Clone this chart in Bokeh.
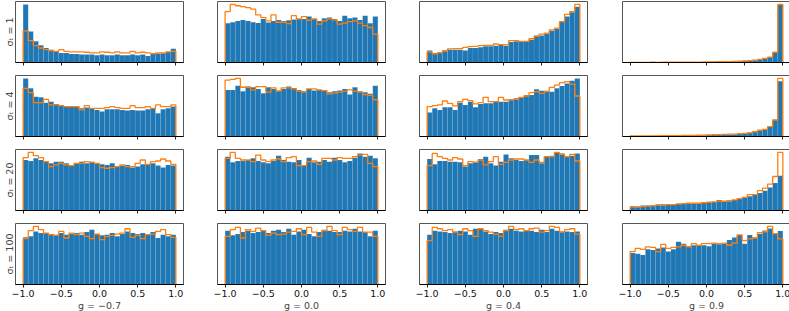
import numpy as np
from bokeh.plotting import figure
from bokeh.layouts import gridplot
from bokeh.models import Range1d, FixedTicker, CustomLabelingPolicy
from bokeh.embed import file_html
from bokeh.resources import INLINE

# ---- data -------------------------------------------------------------
bin_edges = np.linspace(-1.0, 1.0, 31)
g_values = ["−0.7", "0.0", "0.4", "0.9"]
sigma_values = ["1", "4", "20", "100"]
tick_vals = [-1.0, -0.5, 0.0, 0.5, 1.0]
tick_text = ["−1.0", "−0.5", "0.0", "0.5", "1.0"]

# blue = sampled histogram, orange = reference (step) histogram
# row sigma=1
blue_s1_g1 = [176, 94, 64, 52, 44, 39, 34, 29, 29, 26, 26, 24, 24, 24, 22, 24, 22, 22, 24, 22, 22, 24, 22, 24, 20, 26, 27, 28, 32, 42]
orange_s1_g1 = [96, 66, 51, 44, 39, 36, 34, 39, 34, 32, 32, 32, 31, 29, 29, 32, 31, 29, 32, 29, 29, 34, 29, 31, 29, 27, 29, 29, 32, 34]
blue_s1_g2 = [119, 122, 126, 129, 126, 122, 120, 132, 121, 126, 129, 126, 128, 130, 132, 132, 139, 132, 126, 134, 136, 132, 126, 142, 134, 136, 129, 142, 119, 139]
orange_s1_g2 = [154, 176, 172, 169, 166, 162, 144, 136, 126, 144, 122, 122, 118, 142, 132, 139, 128, 132, 116, 126, 132, 129, 116, 119, 124, 126, 119, 112, 106, 86]
blue_s1_g3 = [36, 29, 31, 34, 39, 39, 39, 36, 44, 44, 46, 49, 49, 51, 54, 51, 62, 64, 64, 64, 69, 82, 82, 87, 96, 102, 124, 139, 152, 169]
orange_s1_g3 = [32, 26, 29, 36, 41, 42, 42, 46, 48, 49, 51, 52, 52, 56, 54, 54, 66, 66, 64, 64, 72, 79, 86, 89, 99, 104, 124, 146, 154, 176]
blue_s1_g4 = [0.5, 0.5, 0.5, 0.6, 0.6, 0.7, 0.8, 0.8, 0.9, 1.0, 1.0, 1.2, 1.3, 1.4, 1.5, 1.7, 1.9, 2.1, 2.4, 2.8, 3.2, 3.8, 4.6, 5.6, 7, 9, 12, 17, 30, 174]
orange_s1_g4 = [0.6, 0.5, 0.6, 0.5, 0.7, 0.6, 0.8, 0.9, 0.8, 1.1, 1.1, 1.2, 1.4, 1.4, 1.6, 1.8, 2.0, 2.2, 2.6, 2.9, 3.4, 4.0, 4.8, 5.8, 7.2, 9.5, 12.5, 16, 31, 176]
# row sigma=4
blue_s4_g1 = [175, 145, 120, 118, 102, 105, 98, 95, 90, 92, 90, 85, 87, 85, 80, 75, 82, 82, 82, 80, 78, 80, 78, 78, 82, 85, 70, 82, 85, 90]
orange_s4_g1 = [145, 132, 102, 102, 112, 95, 95, 93, 90, 90, 90, 80, 93, 85, 85, 85, 87, 90, 87, 85, 85, 93, 87, 87, 90, 85, 95, 90, 90, 95]
blue_s4_g2 = [142, 142, 155, 138, 152, 150, 145, 132, 150, 145, 140, 145, 152, 148, 142, 138, 145, 140, 142, 142, 135, 138, 140, 145, 128, 150, 138, 135, 130, 155]
orange_s4_g2 = [172, 174, 177, 150, 150, 142, 152, 152, 135, 148, 138, 148, 148, 145, 138, 135, 145, 145, 142, 140, 130, 132, 135, 138, 142, 138, 135, 128, 125, 112]
blue_s4_g3 = [72, 85, 80, 88, 88, 80, 102, 95, 105, 88, 98, 100, 100, 105, 105, 105, 112, 115, 118, 125, 125, 142, 138, 138, 135, 145, 152, 160, 168, 175]
orange_s4_g3 = [90, 93, 95, 107, 100, 92, 105, 112, 108, 98, 102, 118, 105, 105, 118, 110, 110, 112, 118, 122, 132, 135, 130, 135, 148, 155, 162, 165, 158, 122]
blue_s4_g4 = [1.5, 1.5, 1.8, 1.8, 2.0, 2.0, 2.2, 2.4, 2.6, 2.8, 3.0, 3.2, 3.5, 3.8, 4.0, 4.3, 4.6, 5.0, 5.5, 6.0, 7, 8, 10, 12, 14, 17, 22, 32, 52, 168]
orange_s4_g4 = [1.5, 1.6, 1.7, 1.9, 2.0, 2.1, 2.3, 2.5, 2.7, 2.9, 3.1, 3.4, 3.6, 4.0, 4.4, 5.0, 5.5, 6.0, 6.5, 7.0, 7.5, 8.5, 9.5, 11, 15, 19, 22, 30, 50, 177]
# row sigma=20
blue_s20_g1 = [153, 150, 158, 153, 150, 143, 148, 148, 143, 138, 143, 148, 143, 148, 143, 140, 138, 143, 133, 136, 138, 130, 133, 140, 138, 143, 136, 130, 138, 136]
orange_s20_g1 = [160, 176, 166, 160, 148, 133, 138, 143, 138, 136, 143, 143, 148, 146, 143, 130, 128, 130, 133, 138, 133, 133, 143, 153, 140, 148, 150, 156, 150, 140]
blue_s20_g2 = [163, 146, 150, 150, 153, 158, 150, 146, 143, 150, 166, 153, 148, 146, 153, 138, 160, 146, 148, 153, 148, 160, 153, 146, 150, 160, 173, 163, 166, 158]
orange_s20_g2 = [158, 176, 158, 153, 153, 148, 168, 153, 148, 153, 156, 148, 160, 163, 136, 136, 148, 150, 140, 158, 158, 153, 160, 158, 158, 163, 168, 170, 143, 133]
blue_s20_g3 = [156, 140, 150, 150, 148, 148, 146, 133, 143, 148, 156, 163, 143, 136, 148, 170, 158, 153, 150, 153, 168, 168, 143, 163, 166, 176, 173, 163, 166, 173]
orange_s20_g3 = [136, 173, 163, 158, 153, 160, 156, 136, 148, 146, 153, 138, 148, 163, 140, 146, 153, 156, 156, 153, 146, 153, 146, 163, 163, 176, 170, 163, 170, 150]
blue_s20_g4 = [13, 12, 15, 15, 16, 18, 16, 18, 18, 20, 20, 22, 22, 23, 23, 24, 26, 32, 28, 28, 32, 36, 40, 43, 50, 53, 60, 70, 83, 105]
orange_s20_g4 = [10, 10, 12, 13, 14, 16, 18, 18, 18, 20, 21, 22, 22, 22, 24, 25, 26, 28, 28, 30, 32, 36, 40, 48, 48, 60, 68, 80, 103, 176]
# row sigma=100
blue_s100_g1 = [142, 145, 160, 155, 155, 152, 150, 155, 150, 152, 155, 150, 158, 165, 152, 148, 150, 155, 145, 152, 160, 155, 152, 155, 152, 158, 140, 150, 145, 150]
orange_s100_g1 = [138, 162, 175, 165, 155, 150, 148, 160, 140, 155, 150, 155, 145, 138, 152, 135, 145, 148, 152, 155, 168, 142, 148, 138, 150, 152, 160, 165, 150, 142]
blue_s100_g2 = [162, 148, 152, 158, 162, 155, 158, 162, 155, 162, 165, 158, 168, 150, 160, 165, 152, 145, 158, 165, 162, 158, 158, 162, 160, 168, 160, 158, 145, 162]
orange_s100_g2 = [145, 165, 172, 140, 165, 160, 170, 162, 148, 155, 150, 152, 158, 160, 168, 150, 172, 158, 145, 162, 175, 162, 150, 172, 165, 160, 172, 158, 158, 145]
blue_s100_g3 = [150, 162, 160, 158, 155, 160, 162, 160, 150, 168, 168, 160, 152, 158, 155, 165, 168, 162, 160, 162, 162, 158, 165, 158, 168, 162, 160, 160, 158, 160]
orange_s100_g3 = [132, 172, 168, 162, 165, 158, 150, 168, 162, 145, 168, 162, 158, 152, 145, 162, 175, 165, 168, 162, 168, 170, 158, 162, 175, 172, 158, 165, 168, 152]
blue_s100_g4 = [100, 98, 94, 112, 110, 115, 118, 105, 112, 136, 130, 122, 125, 125, 125, 122, 130, 128, 130, 142, 150, 158, 130, 158, 150, 162, 172, 178, 162, 170]
orange_s100_g4 = [105, 115, 112, 120, 118, 105, 128, 115, 118, 120, 125, 120, 130, 125, 130, 130, 132, 130, 132, 125, 132, 158, 140, 145, 148, 165, 168, 185, 162, 145]

blue_grid = [
    [blue_s1_g1, blue_s1_g2, blue_s1_g3, blue_s1_g4],
    [blue_s4_g1, blue_s4_g2, blue_s4_g3, blue_s4_g4],
    [blue_s20_g1, blue_s20_g2, blue_s20_g3, blue_s20_g4],
    [blue_s100_g1, blue_s100_g2, blue_s100_g3, blue_s100_g4],
]
orange_grid = [
    [orange_s1_g1, orange_s1_g2, orange_s1_g3, orange_s1_g4],
    [orange_s4_g1, orange_s4_g2, orange_s4_g3, orange_s4_g4],
    [orange_s20_g1, orange_s20_g2, orange_s20_g3, orange_s20_g4],
    [orange_s100_g1, orange_s100_g2, orange_s100_g3, orange_s100_g4],
]

# ---- layout -----------------------------------------------------------
FONT = "DejaVu Sans"
FW, FH = 168, 61
border_left = [13, 17, 17, 18]
border_right = [17, 17, 17, 0]
border_top = [1, 6, 6, 6]
border_bottom = [6, 6, 6, 29]

hide_labels = CustomLabelingPolicy(code="""
for (const i of indices) indices.unset(i)
return indices
""")

rows = []
for r in range(4):
    row = []
    for c in range(4):
        blue = np.array(blue_grid[r][c], dtype=float)
        orange = np.array(orange_grid[r][c], dtype=float)
        ymax = 1.05 * max(blue.max(), orange.max())
        p = figure(frame_width=FW, frame_height=FH,
                   x_range=Range1d(-1.1, 1.1), y_range=Range1d(0, ymax),
                   output_backend="svg", toolbar_location=None,
                   y_axis_location="left" if c == 0 else None,
                   min_border_left=border_left[c], min_border_right=border_right[c],
                   min_border_top=border_top[r], min_border_bottom=border_bottom[r])
        p.grid.visible = False
        p.outline_line_color = "#555555"
        p.outline_line_width = 1
        p.background_fill_color = "white"
        p.border_fill_color = "white"

        p.quad(left=bin_edges[:-1], right=bin_edges[1:], bottom=0, top=blue,
               fill_color="#1f77b4", line_color="white", line_alpha=0.15, line_width=0.5)
        xs = np.repeat(bin_edges, 2)
        ys = np.concatenate([[0.0], np.repeat(orange, 2), [0.0]])
        p.line(xs, ys, line_color="#ff7f0e", line_width=1.3)

        ax = p.xaxis[0]
        ax.ticker = FixedTicker(ticks=tick_vals)
        ax.major_label_overrides = {v: t for v, t in zip(tick_vals, tick_text)}
        ax.axis_line_color = "black"
        ax.axis_line_width = 1
        ax.major_tick_line_color = "#222222"
        ax.major_tick_out = 3
        ax.major_tick_in = 0
        ax.minor_tick_line_color = None
        ax.major_label_text_font = FONT
        if r == 3:
            ax.major_label_text_font_size = "9.5px"
            ax.major_label_text_color = "#111111"
            ax.major_label_standoff = 2
            ax.axis_label = "g = " + g_values[c]
            ax.axis_label_text_font = FONT
            ax.axis_label_text_font_size = "9.5px"
            ax.axis_label_text_font_style = "normal"
            ax.axis_label_standoff = 0
        else:
            ax.major_label_text_font_size = "1px"
            ax.major_label_standoff = 0
            ax.major_label_policy = hide_labels

        if c == 0:
            ya = p.yaxis[0]
            ya.ticker = FixedTicker(ticks=[])
            ya.axis_line_color = None
            ya.major_tick_line_color = None
            ya.minor_tick_line_color = None
            ya.major_label_standoff = 0
            ya.axis_label = "σₜ = " + sigma_values[r]
            ya.axis_label_text_font = FONT
            ya.axis_label_text_font_size = "9.5px"
            ya.axis_label_text_font_style = "normal"
            ya.axis_label_standoff = 1
        row.append(p)
    rows.append(row)

grid = gridplot(rows, toolbar_location=None)
open("out.html", "w").write(file_html(grid, INLINE))
